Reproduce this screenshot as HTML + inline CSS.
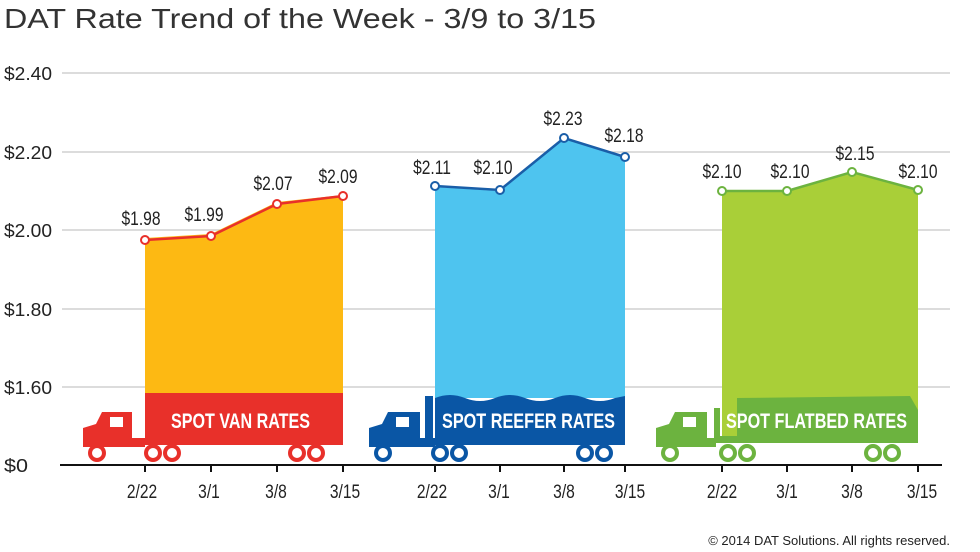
<!DOCTYPE html>
<html><head><meta charset="utf-8"><style>
html,body{margin:0;padding:0;background:#fff}
svg{display:block}
text{font-family:"Liberation Sans",sans-serif}
</style></head><body>
<svg width="980" height="552" viewBox="0 0 980 552" xmlns="http://www.w3.org/2000/svg">
<text x="4" y="28" font-size="28" fill="#333" textLength="592" lengthAdjust="spacingAndGlyphs">DAT Rate Trend of the Week - 3/9 to 3/15</text>
<g stroke="#c8c8c8" stroke-width="1.2">
<line x1="62" y1="73" x2="950" y2="73"/><line x1="62" y1="152" x2="950" y2="152"/>
<line x1="62" y1="230" x2="950" y2="230"/><line x1="62" y1="309" x2="950" y2="309"/>
<line x1="62" y1="387" x2="950" y2="387"/>
</g>
<g font-size="18" fill="#222" lengthAdjust="spacingAndGlyphs">
<text x="4" y="80" textLength="48" lengthAdjust="spacingAndGlyphs">$2.40</text><text x="4" y="159" textLength="48" lengthAdjust="spacingAndGlyphs">$2.20</text><text x="4" y="237" textLength="48" lengthAdjust="spacingAndGlyphs">$2.00</text>
<text x="4" y="316" textLength="48" lengthAdjust="spacingAndGlyphs">$1.80</text><text x="4" y="394" textLength="48" lengthAdjust="spacingAndGlyphs">$1.60</text><text x="4" y="472" textLength="24" lengthAdjust="spacingAndGlyphs">$0</text>
</g>
<polygon points="145,238 211,234 277,202 343,195 343,393 145,393" fill="#fdb913"/>
<polygon points="435,187 500,191 564,138 625,156 625,398 435,398" fill="#4ec4ef"/>
<polygon points="722,191 787,191 852,171 918,191 918,440 722,440" fill="#a9cf38"/>
<g fill="#e8302a">
<rect x="145" y="393" width="198" height="52"/>
<path d="M83,428 L96,424 L102,412 L132,412 L132,438 L145,438 L145,447 L83,447 Z"/>
<rect x="110" y="417" width="13" height="10" fill="#fff"/>
</g>
<g fill="#0a56a5">
<path d="M435,398 Q450,392 465,398 T495,398 T525,398 T555,398 T585,398 T615,398 L625,396 L625,445 L435,445 Z"/>
<rect x="425" y="396" width="8" height="42"/>
<path d="M369,428 L382,424 L388,412 L420,412 L420,438 L435,438 L435,447 L369,447 Z"/>
<rect x="396" y="417" width="13" height="10" fill="#fff"/>
</g>
<g fill="#6cb33f">
<path d="M737,398 L910,396 L918,410 L918,436 L737,436 Z"/>
<rect x="714" y="408" width="6" height="30"/>
<rect x="714" y="436" width="204" height="7"/>
<path d="M656,428 L669,424 L675,412 L707,412 L707,438 L716,438 L716,447 L656,447 Z"/>
<rect x="683" y="417" width="13" height="10" fill="#fff"/>
</g>
<g font-size="21" font-weight="bold" fill="#fff">
<text x="171" y="428" textLength="139" lengthAdjust="spacingAndGlyphs">SPOT VAN RATES</text>
<text x="442" y="428" textLength="173" lengthAdjust="spacingAndGlyphs">SPOT REEFER RATES</text>
<text x="726" y="428" textLength="181" lengthAdjust="spacingAndGlyphs">SPOT FLATBED RATES</text>
</g>
<g stroke-width="4" fill="#fff">
<g stroke="#e8302a"><circle cx="97" cy="453" r="7"/><circle cx="153" cy="453" r="7"/><circle cx="172" cy="453" r="7"/><circle cx="297" cy="453" r="7"/><circle cx="316" cy="453" r="7"/></g>
<g stroke="#0a56a5"><circle cx="383" cy="453" r="7"/><circle cx="440" cy="453" r="7"/><circle cx="459" cy="453" r="7"/><circle cx="585" cy="453" r="7"/><circle cx="604" cy="453" r="7"/></g>
<g stroke="#6cb33f"><circle cx="670" cy="453" r="7"/><circle cx="728" cy="453" r="7"/><circle cx="747" cy="453" r="7"/><circle cx="873" cy="453" r="7"/><circle cx="892" cy="453" r="7"/></g>
</g>
<line x1="60" y1="465" x2="942" y2="465" stroke="#111" stroke-width="2"/>
<g stroke="#111" stroke-width="2">
<line x1="145" y1="465" x2="145" y2="472"/><line x1="211" y1="465" x2="211" y2="472"/><line x1="277" y1="465" x2="277" y2="472"/><line x1="343" y1="465" x2="343" y2="472"/>
<line x1="435" y1="465" x2="435" y2="472"/><line x1="500" y1="465" x2="500" y2="472"/><line x1="564" y1="465" x2="564" y2="472"/><line x1="625" y1="465" x2="625" y2="472"/>
<line x1="722" y1="465" x2="722" y2="472"/><line x1="787" y1="465" x2="787" y2="472"/><line x1="852" y1="465" x2="852" y2="472"/><line x1="918" y1="465" x2="918" y2="472"/>
</g>
<g font-size="19" fill="#222" text-anchor="middle" transform="translate(0,0)">
<g transform="translate(142,498) scale(0.82,1)"><text>2/22</text></g>
<g transform="translate(209,498) scale(0.82,1)"><text>3/1</text></g>
<g transform="translate(276,498) scale(0.82,1)"><text>3/8</text></g>
<g transform="translate(345,498) scale(0.82,1)"><text>3/15</text></g>
<g transform="translate(432,498) scale(0.82,1)"><text>2/22</text></g>
<g transform="translate(499,498) scale(0.82,1)"><text>3/1</text></g>
<g transform="translate(564,498) scale(0.82,1)"><text>3/8</text></g>
<g transform="translate(630,498) scale(0.82,1)"><text>3/15</text></g>
<g transform="translate(722,498) scale(0.82,1)"><text>2/22</text></g>
<g transform="translate(787,498) scale(0.82,1)"><text>3/1</text></g>
<g transform="translate(852,498) scale(0.82,1)"><text>3/8</text></g>
<g transform="translate(922,498) scale(0.82,1)"><text>3/15</text></g>
</g>
<g fill="none" stroke-width="2.5">
<polyline points="145,240 211,236 277,204 343,196" stroke="#e8302a"/>
<polyline points="435,186 500,190 564,138 625,157" stroke="#1a5ea8"/>
<polyline points="722,191 787,191 852,172 918,190" stroke="#6cb33f"/>
</g>
<g fill="#fff" stroke-width="2">
<g stroke="#e8302a"><circle cx="145" cy="240" r="4"/><circle cx="211" cy="236" r="4"/><circle cx="277" cy="204" r="4"/><circle cx="343" cy="196" r="4"/></g>
<g stroke="#1a5ea8"><circle cx="435" cy="186" r="4"/><circle cx="500" cy="190" r="4"/><circle cx="564" cy="138" r="4"/><circle cx="625" cy="157" r="4"/></g>
<g stroke="#6cb33f"><circle cx="722" cy="191" r="4"/><circle cx="787" cy="191" r="4"/><circle cx="852" cy="172" r="4"/><circle cx="918" cy="190" r="4"/></g>
</g>
<g font-size="19" fill="#222" text-anchor="middle">
<g transform="translate(141,225) scale(0.82,1)"><text>$1.98</text></g>
<g transform="translate(204,221) scale(0.82,1)"><text>$1.99</text></g>
<g transform="translate(273,190) scale(0.82,1)"><text>$2.07</text></g>
<g transform="translate(338,183) scale(0.82,1)"><text>$2.09</text></g>
<g transform="translate(432,174) scale(0.82,1)"><text>$2.11</text></g>
<g transform="translate(493,174) scale(0.82,1)"><text>$2.10</text></g>
<g transform="translate(563,125) scale(0.82,1)"><text>$2.23</text></g>
<g transform="translate(624,142) scale(0.82,1)"><text>$2.18</text></g>
<g transform="translate(722,178) scale(0.82,1)"><text>$2.10</text></g>
<g transform="translate(790,178) scale(0.82,1)"><text>$2.10</text></g>
<g transform="translate(855,160) scale(0.82,1)"><text>$2.15</text></g>
<g transform="translate(918,178) scale(0.82,1)"><text>$2.10</text></g>
</g>
<text x="950" y="545" font-size="13" fill="#222" text-anchor="end">© 2014 DAT Solutions. All rights reserved.</text>
</svg>
</body></html>
